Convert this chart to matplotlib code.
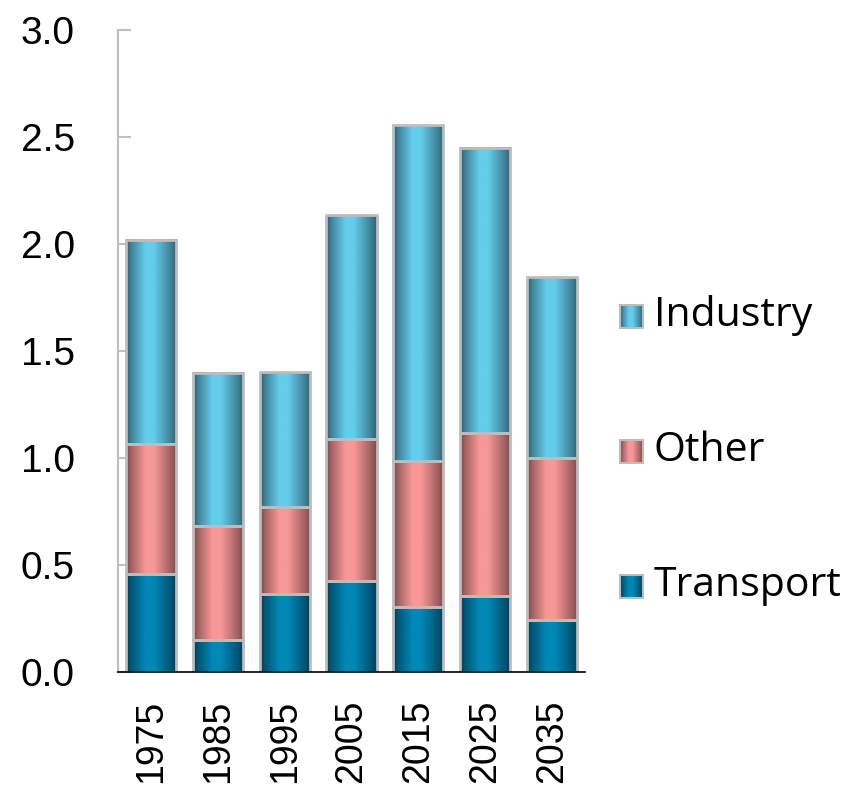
import numpy as np
import matplotlib
matplotlib.use("Agg")
import matplotlib.pyplot as plt
from matplotlib.patches import Rectangle
from matplotlib.colors import to_rgb

plt.rcParams['font.family'] = ['Liberation Sans', 'DejaVu Sans']

years = ['1975', '1985', '1995', '2005', '2015', '2025', '2035']
transport = [0.46, 0.15, 0.365, 0.425, 0.305, 0.355, 0.245]
other = [0.605, 0.53, 0.405, 0.665, 0.68, 0.76, 0.755]
industry = [0.955, 0.715, 0.63, 1.045, 1.57, 1.335, 0.845]

series = [('Transport', transport, '#003C54', '#0088B6'),
          ('Other', other, '#764646', '#F89797'),
          ('Industry', industry, '#2C5C6C', '#64CDEC')]

def grad_img(dark, light, n=100):
    t = np.linspace(0, 1, n)
    f = np.interp(t, [0, 0.1, 0.38, 0.55, 0.9, 1.0], [0.0, 0.35, 1.0, 1.0, 0.3, 0.05])
    d = np.array(to_rgb(dark)); l = np.array(to_rgb(light))
    row = d[None, :] * (1 - f[:, None]) + l[None, :] * f[:, None]
    return row[None, :, :]

fig = plt.figure(figsize=(8.57, 7.94), dpi=100)
ax = fig.add_axes([118/857, 1-672/794, (585-118)/857, (672-30)/794])

w = 0.75
x = np.arange(len(years))
bottom = np.zeros(len(years))
for name, vals, dark, light in series:
    img = grad_img(dark, light)
    for i, v in enumerate(vals):
        ax.imshow(img, extent=[x[i]-w/2, x[i]+w/2, bottom[i], bottom[i]+v],
                  aspect='auto', zorder=2, interpolation='bilinear')
    ax.bar(x, vals, w, bottom=bottom, facecolor='none', edgecolor='#BDBDBD',
           linewidth=2, zorder=3)
    bottom += np.array(vals)

ax.set_xlim(-0.5, len(years)-0.5)
ax.set_ylim(0, 3.0)
ax.set_yticks(np.arange(0, 3.01, 0.5))
ax.set_yticklabels([f'{v:.1f}' for v in np.arange(0, 3.01, 0.5)], fontsize=28)
ax.set_xticks(x)
ax.set_xticklabels(years, rotation=90, fontsize=27)
ax.tick_params(axis='y', direction='in', length=9, width=1.5, color='#BFBFBF', pad=31)
ax.tick_params(axis='x', length=0, pad=20)
for s in ['top', 'right']:
    ax.spines[s].set_visible(False)
ax.spines['left'].set_color('#BFBFBF')
ax.spines['left'].set_linewidth(1.5)
ax.spines['bottom'].set_color('black')
ax.spines['bottom'].set_linewidth(1.2)
ax.spines['bottom'].set_zorder(4)

# legend drawn manually
lax = fig.add_axes([0, 0, 1, 1])
lax.set_xlim(0, 857); lax.set_ylim(794, 0)
lax.axis('off')
ys = {'Industry': 316, 'Other': 451, 'Transport': 586}
for name, vals, dark, light in series:
    yc = ys[name]
    img = grad_img(dark, light)
    lax.imshow(img, extent=[620, 643, yc+11.5, yc-11.5], aspect='auto', zorder=2)
    lax.add_patch(Rectangle((620, yc-11.5), 23, 23, facecolor='none',
                            edgecolor='#BDBDBD', linewidth=1.5, zorder=3))
    lax.text(654, yc, name, fontsize=29.5, va='center', ha='left',
             family=['Open Sans', 'Liberation Sans'])
lax.set_xlim(0, 857); lax.set_ylim(794, 0)

fig.savefig('out.png', dpi=100)
